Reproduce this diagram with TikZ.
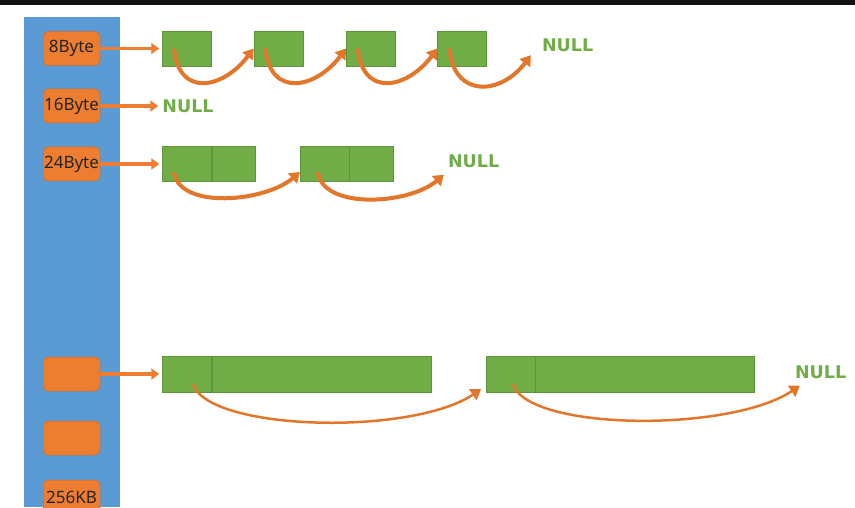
\documentclass[tikz,border=0pt]{standalone}
\usepackage{fontspec}
\setmainfont{Noto Sans}
\newfontfamily\nulltextfont{DejaVu Sans}
\usepackage{xcolor}
\usetikzlibrary{positioning, arrows.meta, calc}

\definecolor{listblue}{HTML}{5B9BD5}
\definecolor{sizeorange}{HTML}{ED7D31}
\definecolor{hoporange}{HTML}{E2772C}
\definecolor{blockgreen}{HTML}{70AD47}

\begin{document}
\begin{tikzpicture}[x=1pt, y=1pt, node distance=42pt]
        \tikzstyle{sizebox} = [rectangle, draw=sizeorange!85!black, line width=0.5pt, fill=sizeorange, rounded corners=5pt, minimum width=57pt, minimum height=34pt, inner sep=0pt, text=black!85, font=\fontsize{17}{17}\selectfont]
        \tikzstyle{cell} = [rectangle, draw=blockgreen!85!black, line width=0.4pt, fill=blockgreen, minimum width=49pt, minimum height=35pt, inner sep=0pt]
        \tikzstyle{nullmark} = [text=blockgreen, font=\nulltextfont\bfseries\fontsize{17.5}{17.5}\selectfont, inner sep=2pt]
        \tikzstyle{arrow} = [line width=3.5pt, draw=sizeorange, shorten >=3pt, -{Triangle[length=8pt,width=11pt]}]
        \tikzstyle{hop} = [line width=4pt, draw=hoporange, -{Triangle[length=10pt,width=13pt]}]

        \useasboundingbox (0,0) rectangle (855,507);
        \clip (0,0) rectangle (855,507);
        \fill [black!92] (0,502) rectangle (855,507);
        \fill [listblue] (24,0) rectangle (120,490);

        % size classes
        \node [sizebox] (s8) at (71.5,458.5) {8Byte};
        \node [sizebox] (s16) at (71.5,401) {16Byte};
        \node [sizebox] (s24) at (71.5,343) {24Byte};
        \node [sizebox] (sx1) at (71.5,133) {};
        \node [sizebox] (sx2) at (71.5,69) {};
        \node [sizebox] (s256) at (71.5,10) {256KB};

        % 8Byte list
        \node [cell, right=62pt of s8] (a1) {};
        \node [cell, right=of a1] (a2) {};
        \node [cell, right=43pt of a2] (a3) {};
        \node [cell, right=of a3] (a4) {};
        \node [nullmark, right=53pt of a4, yshift=3pt] (n1) {NULL};

        % 16Byte list
        \node [nullmark, right=60pt of s16] (n2) {NULL};

        % 24Byte list
        \node [cell, right=62pt of s24] (b1) {};
        \node [cell, minimum width=43pt, right=0pt of b1] (b1r) {};
        \node [cell, right=45pt of b1r] (b2) {};
        \node [cell, minimum width=44pt, right=0pt of b2] (b2r) {};
        \node [nullmark, right=52pt of b2r, yshift=3pt] (n3) {NULL};

        % large spans
        \node [cell, minimum height=36pt, right=62pt of sx1] (c1) {};
        \node [cell, minimum height=36pt, minimum width=219pt, right=0pt of c1] (c1r) {};
        \node [cell, minimum height=36pt, right=55pt of c1r] (d1) {};
        \node [cell, minimum height=36pt, minimum width=219pt, right=0pt of d1] (d1r) {};
        \node [nullmark, right=38pt of d1r, yshift=2pt] (n4) {NULL};

        \draw [arrow] (s8) -- (a1);
        \draw [arrow, shorten >=2pt] (s16) -- (n2);
        \draw [arrow] (s24) -- (b1);
        \draw [arrow] (sx1) -- (c1);

        \draw [hop] ([xshift=-13pt]a1.center) .. controls +(5,-50) and +(-30,-40) .. (a2.west);
        \draw [hop] ([xshift=-13pt]a2.center) .. controls +(5,-50) and +(-30,-40) .. (a3.west);
        \draw [hop] ([xshift=-13pt]a3.center) .. controls +(5,-50) and +(-30,-40) .. (a4.west);
        \draw [hop] ([xshift=-13pt]a4.center) .. controls +(5,-50) and +(-30,-40) .. ([shift={(-9pt,-1pt)}]n1.south west);

        \draw [hop] ([shift={(-13pt,-8pt)}]b1.center) .. controls +(5,-38) and +(-35,-30) .. ([yshift=-8pt]b2.west);
        \draw [hop] ([shift={(-7pt,-8pt)}]b2.center) .. controls +(5,-38) and +(-35,-30) .. ([shift={(-2pt,-5pt)}]n3.south west);

        \draw [hop, line width=2.5pt] ([shift={(6pt,-10pt)}]c1.center) .. controls +(15,-47) and +(-70,-47) .. ([shift={(-5pt,3pt)}]d1.south west);
        \draw [hop, line width=2.5pt] ([shift={(2pt,-10pt)}]d1.center) .. controls +(15,-47) and +(-70,-47) .. ([shift={(7pt,-5pt)}]n4.south west);
\end{tikzpicture}
\end{document}
